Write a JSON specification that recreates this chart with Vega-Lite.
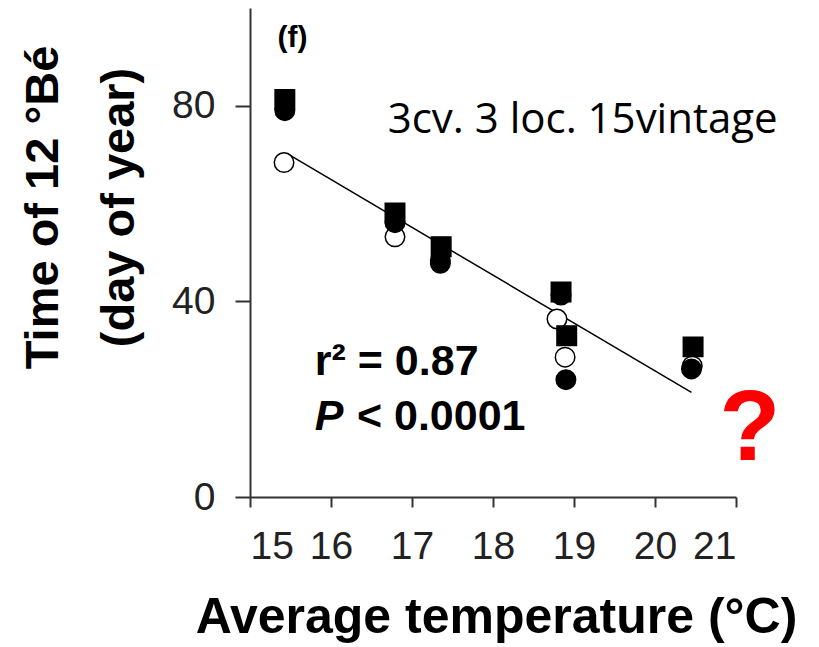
{
  "$schema": "https://vega.github.io/schema/vega-lite/v6.json",
  "width": 486,
  "height": 489,
  "autosize": {"type": "none"},
  "padding": {"left": 250, "top": 8, "right": 83, "bottom": 150},
  "background": "white",
  "config": {"view": {"stroke": null}},
  "datasets": {
    "points": [
      {"x": 15.42, "y": 68.4, "type": "open"},
      {"x": 16.79, "y": 53.2, "type": "open"},
      {"x": 17.35, "y": 48.3, "type": "open"},
      {"x": 18.79, "y": 36.4, "type": "open"},
      {"x": 18.89, "y": 28.6, "type": "open"},
      {"x": 20.46, "y": 26.8, "type": "open"},
      {"x": 15.43, "y": 79.0, "type": "filled"},
      {"x": 16.79, "y": 56.1, "type": "filled"},
      {"x": 17.35, "y": 47.8, "type": "filled"},
      {"x": 18.84, "y": 41.3, "type": "filled"},
      {"x": 18.9, "y": 24.0, "type": "filled"},
      {"x": 20.45, "y": 26.2, "type": "filled"},
      {"x": 15.43, "y": 81.3, "type": "square"},
      {"x": 16.79, "y": 58.1, "type": "square"},
      {"x": 17.36, "y": 51.2, "type": "square"},
      {"x": 18.84, "y": 41.9, "type": "square"},
      {"x": 18.91, "y": 33.0, "type": "square"},
      {"x": 20.47, "y": 30.7, "type": "square"}
    ],
    "fit": [
      {"x": 15.47, "y": 70.1},
      {"x": 20.45, "y": 21.4}
    ]
  },
  "encoding": {
    "x": {
      "field": "x",
      "type": "quantitative",
      "scale": {"domain": [15, 21], "nice": false, "zero": false},
      "axis": {
        "values": [15, 16, 17, 18, 19, 20, 21],
        "grid": false,
        "domainColor": "#333333",
        "domainWidth": 2,
        "tickColor": "#333333",
        "tickWidth": 2,
        "tickSize": 10,
        "labelFont": "Liberation Sans",
        "labelFontSize": 39,
        "labelColor": "#222222",
        "labelPadding": 20,
        "title": "Average temperature (°C)",
        "titleFont": "Liberation Sans",
        "titleFontSize": 50,
        "titleFontWeight": "bold",
        "titleColor": "#000000",
        "titleBaseline": "alphabetic",
        "titleX": 246,
        "titleY": 135
      }
    },
    "y": {
      "field": "y",
      "type": "quantitative",
      "scale": {"domain": [0, 100], "nice": false},
      "axis": {
        "values": [0, 40, 80],
        "grid": false,
        "domainColor": "#333333",
        "domainWidth": 2,
        "tickColor": "#333333",
        "tickWidth": 2,
        "tickSize": 15,
        "labelFont": "Liberation Sans",
        "labelFontSize": 39,
        "labelColor": "#222222",
        "labelPadding": 20,
        "title": ["Time of 12 °Bé", "(day of year)"],
        "titleFont": "Liberation Sans",
        "titleFontSize": 47,
        "titleFontWeight": "bold",
        "titleColor": "#000000",
        "titleLineHeight": 76,
        "titleAngle": -90,
        "titleAlign": "center",
        "titleBaseline": "bottom",
        "titleX": -183,
        "titleY": 199
      }
    }
  },
  "layer": [
    {
      "data": {"name": "fit"},
      "mark": {"type": "line", "color": "#000000", "strokeWidth": 1.5},
      "encoding": {}
    },
    {
      "data": {"name": "points"},
      "mark": {"type": "point", "filled": true, "stroke": "#000000", "strokeWidth": 1.5, "size": 380, "opacity": 1},
      "encoding": {
        "shape": {"field": "type", "type": "nominal", "scale": {"domain": ["open", "filled", "square"], "range": ["circle", "circle", "square"]}, "legend": null},
        "fill": {"field": "type", "type": "nominal", "scale": {"domain": ["open", "filled", "square"], "range": ["#ffffff", "#000000", "#000000"]}, "legend": null}
      }
    },
    {
      "data": {"values": [{"x": 15.34, "y": 92.0, "label": "(f)"}]},
      "mark": {"type": "text", "align": "left", "baseline": "alphabetic", "font": "Liberation Sans", "fontSize": 30, "fontWeight": "bold", "color": "#000000"},
      "encoding": {"text": {"field": "label"}}
    },
    {
      "data": {"values": [{"x": 16.7, "y": 74.4, "label": "3cv. 3 loc. 15vintage"}]},
      "mark": {"type": "text", "align": "left", "baseline": "alphabetic", "font": "Open Sans", "fontSize": 42, "color": "#000000"},
      "encoding": {"text": {"field": "label"}}
    },
    {
      "data": {"values": [{"x": 15.8, "y": 25.0, "label": "r² = 0.87"}]},
      "mark": {"type": "text", "align": "left", "baseline": "alphabetic", "font": "Liberation Sans", "fontSize": 43, "fontWeight": "bold", "color": "#000000"},
      "encoding": {"text": {"field": "label"}}
    },
    {
      "data": {"values": [{"x": 15.8, "y": 13.7, "label": "P"}]},
      "mark": {"type": "text", "align": "left", "baseline": "alphabetic", "font": "Liberation Sans", "fontSize": 43, "fontWeight": "bold", "fontStyle": "italic", "color": "#000000"},
      "encoding": {"text": {"field": "label"}}
    },
    {
      "data": {"values": [{"x": 16.32, "y": 13.7, "label": "< 0.0001"}]},
      "mark": {"type": "text", "align": "left", "baseline": "alphabetic", "font": "Liberation Sans", "fontSize": 43, "fontWeight": "bold", "color": "#000000"},
      "encoding": {"text": {"field": "label"}}
    },
    {
      "data": {"values": [{"x": 21.17, "y": 7.6, "label": "?"}]},
      "mark": {"type": "text", "align": "center", "baseline": "alphabetic", "font": "Liberation Sans", "fontSize": 100, "fontWeight": "bold", "color": "#ff0000"},
      "encoding": {"text": {"field": "label"}}
    }
  ]
}
